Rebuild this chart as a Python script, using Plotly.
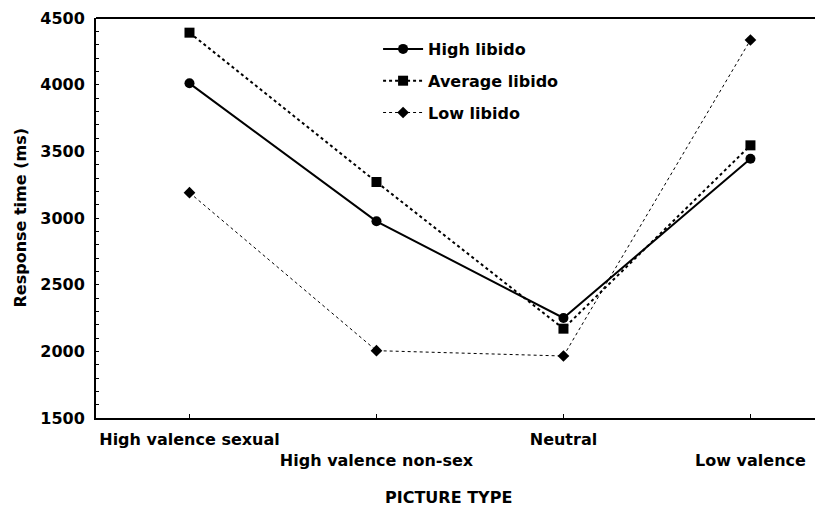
import plotly.graph_objects as go

# catégories (axe x) et temps de réponse moyens (ms)
categories = ["High valence sexual", "High valence non-sex", "Neutral", "Low valence"]
tick_labels = ["High valence sexual", "<br>High valence non-sex", "Neutral", "<br>Low valence"]
high_libido = [4010, 2975, 2250, 3445]
average_libido = [4390, 3270, 2170, 3545]
low_libido = [3190, 2005, 1965, 4335]

x_idx = list(range(len(categories)))

fig = go.Figure()
fig.add_trace(go.Scatter(x=x_idx, y=high_libido, name="High libido", mode="lines+markers",
                         legendgroup="a",
                         line=dict(color="black", width=2, dash="solid"),
                         marker=dict(symbol="circle", size=10, color="black")))
fig.add_trace(go.Scatter(x=x_idx, y=average_libido, name="Average libido", mode="lines+markers",
                         legendgroup="b",
                         line=dict(color="black", width=2, dash="3px,3px"),
                         marker=dict(symbol="square", size=10, color="black")))
fig.add_trace(go.Scatter(x=x_idx, y=low_libido, name="Low libido", mode="lines+markers",
                         legendgroup="c",
                         line=dict(color="black", width=1, dash="dot"),
                         marker=dict(symbol="diamond", size=9, color="black")))

# la page a une marge de 8 px : on en tient compte dans les marges
fig.update_layout(
    width=823, height=510,
    margin=dict(l=88, r=8, t=10, b=100),
    paper_bgcolor="white", plot_bgcolor="white",
    font=dict(family="DejaVu Sans, Arial, sans-serif", size=16, color="black", weight="bold"),
    legend=dict(x=0.388, y=0.965, xanchor="left", yanchor="top",
                bgcolor="rgba(0,0,0,0)", font=dict(size=16), itemwidth=40,
                traceorder="grouped", tracegroupgap=8),
    showlegend=True,
)
fig.update_xaxes(
    tickmode="array", tickvals=x_idx, ticktext=tick_labels, tickangle=0,
    range=[-0.5, 3.388], showgrid=False, zeroline=False, automargin=False,
    showline=True, linecolor="black", linewidth=2,
    ticks="inside", ticklen=4, tickcolor="black", ticklabelstandoff=6,
)
fig.update_yaxes(
    range=[1500, 4500], tickvals=[1500, 2000, 2500, 3000, 3500, 4000, 4500],
    showgrid=False, zeroline=False, automargin=False,
    showline=True, linecolor="black", linewidth=2,
    ticks="", ticklabelstandoff=6,
    minor=dict(ticks="inside", ticklen=3, tickcolor="black", dtick=100),
)
# titres des axes
fig.add_annotation(text="PICTURE TYPE", xref="paper", yref="paper", x=0.485, y=0,
                   yshift=-91, showarrow=False, font=dict(size=16))
fig.add_annotation(text="Response time (ms)", xref="paper", yref="paper", x=0, y=0.5,
                   xshift=-88, textangle=-90, showarrow=False, font=dict(size=16))
# ligne du haut du cadre
fig.add_shape(type="line", xref="paper", yref="paper", x0=0, x1=1, y0=1, y1=1,
              line=dict(color="black", width=2))

fig.write_html("out.html")
